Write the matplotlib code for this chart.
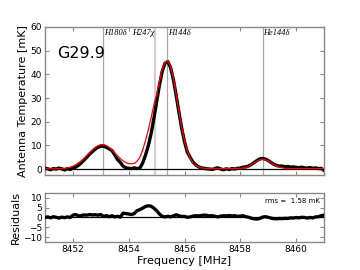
import matplotlib
matplotlib.use("Agg")
import matplotlib.pyplot as plt
import numpy as np

# Frequency grid (MHz), 0.1 MHz steps from 8451.0 to 8461.0
freq_start = 8451.0
freq_step = 0.1

data_mK = [
    0.3, 0.1, -0.3, 0.2, 0.0, 0.4, 0.1, -0.4, 0.2, -0.2,          # 8451.0-8451.9
    0.5, 0.8, 1.6, 2.6, 3.8, 5.0, 6.3, 7.4, 8.4, 9.2,               # 8452.0-8452.9
    9.6, 9.7, 9.2, 8.5, 7.8, 6.0, 4.0, 2.8, 1.2, 0.5,               # 8453.0-8453.9
    0.3, 0.2, 0.5, 0.2, 0.4, 2.5, 5.8, 9.7, 14.8, 21.2,             # 8454.0-8454.9
    28.3, 35.3, 41.2, 44.7, 45.4, 42.9, 37.9, 31.2, 24.0, 17.2,     # 8455.0-8455.9
    11.5, 7.2, 5.0, 3.0, 1.8, 1.0, 0.5, 0.3, 0.1, 0.0,              # 8456.0-8456.9
    -0.2, 0.3, 0.5, 0.0, -0.3, 0.1, -0.2, 0.2, 0.0, 0.3,            # 8457.0-8457.9
    0.4, 0.8, 0.9, 1.3, 1.9, 2.8, 3.6, 4.3, 4.5, 4.2,               # 8458.0-8458.9
    3.6, 2.8, 2.0, 1.5, 1.2, 1.3, 0.9, 1.1, 0.8, 0.9,               # 8459.0-8459.9
    0.7, 0.6, 0.8, 0.5, 0.4, 0.6, 0.3, 0.5, 0.2, 0.3,               # 8460.0-8460.9
    -0.6,                                                            # 8461.0
]

model_mK = [
    0.1, 0.1, 0.1, 0.1, 0.1, 0.2, 0.2, 0.3, 0.5, 0.8,
    1.2, 1.8, 2.6, 3.5, 4.6, 5.8, 7.0, 8.2, 9.2, 9.9,
    10.3, 10.3, 9.9, 9.1, 8.0, 6.8, 5.5, 4.4, 3.4, 2.7,
    2.3, 2.2, 2.4, 3.3, 5.0, 8.0, 12.0, 16.5, 21.5, 27.0,
    31.5, 37.0, 42.3, 45.0, 45.8, 43.3, 38.3, 31.5, 24.3, 17.5,
    11.8, 7.6, 4.6, 2.7, 1.5, 0.9, 0.5, 0.3, 0.2, 0.2,
    0.2, 0.2, 0.2, 0.2, 0.2, 0.2, 0.2, 0.2, 0.2, 0.3,
    0.3, 0.4, 0.7, 1.2, 1.9, 2.7, 3.4, 3.9, 4.1, 3.9,
    3.4, 2.7, 1.9, 1.3, 0.8, 0.5, 0.3, 0.2, 0.2, 0.2,
    0.2, 0.2, 0.2, 0.2, 0.2, 0.2, 0.2, 0.2, 0.2, 0.2,
    0.2,
]

resid_mK = [
    0.0, 0.3, -0.2, 0.4, 0.1, -0.3, 0.2, -0.1, 0.3, 0.0,
    1.2, 1.5, 0.8, 1.0, 1.3, 1.2, 1.5, 1.3, 1.4, 1.2,
    1.5, 0.5, 1.0, 0.4, 0.9, 0.3, 0.6, 0.2, 2.2, 2.0,
    1.8, 1.5, 2.0, 3.5, 4.0, 4.8, 5.6, 6.0, 5.8, 4.8,
    3.5, 1.8, 0.6, 0.3, 0.6, 0.3, 0.8, 1.4, 0.9, 0.5,
    0.6, 0.1, 0.3, 0.7, 0.9, 0.8, 1.0, 1.2, 1.1, 0.8,
    0.9, 0.6, 0.3, 0.7, 0.9, 0.8, 1.0, 0.8, 0.9, 0.6,
    0.7, 0.9, 0.4, 0.1, -0.4, -0.7, -0.8, -0.5, 0.2, 0.4,
    0.1, -0.3, -0.6, -0.7, -0.5, -0.6, -0.4, -0.5, -0.2, -0.3,
    0.0, -0.2, 0.1, 0.0, -0.3, 0.0, -0.2, 0.3, 0.4, 0.9,
    1.2,
]

line_names = ["H180\u03b4", "H247\u03c7", "H144\u03b4", "He144\u03b4"]
line_freqs = [8453.08, 8454.96, 8455.37, 8458.80]

source_name = "G29.9"
rms_text = "rms =  1.58 mK"

freq = freq_start + freq_step * np.arange(len(data_mK))

fig = plt.figure(figsize=(3.6, 2.7), dpi=100)
ax = fig.add_axes([0.125, 0.352, 0.775, 0.548])
axr = fig.add_axes([0.125, 0.104, 0.775, 0.181])

spine_col = "#888888"
for a in (ax, axr):
    for s in a.spines.values():
        s.set_color(spine_col)
        s.set_linewidth(1.0)
    a.tick_params(direction="in", top=True, right=True, color=spine_col,
                  labelsize=6.5, length=3, width=0.8, pad=2)
    a.set_xlim(8451, 8461)
    a.set_xticks([8452, 8454, 8456, 8458, 8460])

# vertical line markers
line_styles = [("#b0a4a4", 0.9), ("#d8cccc", 1.6), ("#b0a4a4", 0.9), ("#b0a4a4", 0.9)]
for name, f, (c, lw) in zip(line_names, line_freqs, line_styles):
    ax.axvline(f, color=c, lw=lw, zorder=1)
    ha = "right" if name == "H247\u03c7" else "left"
    dx = -0.03 if ha == "right" else 0.03
    ax.text(f + dx, 59.3, name, ha=ha, va="top", fontsize=6,
            family="Liberation Serif", style="italic")

ax.axhline(0, color="black", lw=0.9, zorder=2)
ax.plot(freq, data_mK, color="black", lw=2.4, solid_joinstyle="round",
        solid_capstyle="round", zorder=3)
ax.plot(freq, model_mK, color="red", lw=0.9, zorder=4)
ax.set_ylim(-2.5, 60)
ax.set_yticks([0, 10, 20, 30, 40, 50, 60])
ax.set_xticklabels([])
ax.set_ylabel("Antenna Temperature [mK]", fontsize=8, labelpad=2)
ax.text(0.045, 0.82, source_name, transform=ax.transAxes, fontsize=11.5,
        ha="left", va="center")

axr.axhline(0, color="black", lw=0.9, zorder=2)
axr.plot(freq, resid_mK, color="black", lw=2.4, solid_joinstyle="round",
         solid_capstyle="round", zorder=3)
axr.set_ylim(-12.5, 12.5)
axr.set_yticks([-10, -5, 0, 5, 10])
axr.set_yticklabels(["\u221210", "\u22125", "0", "5", "10"])
axr.set_ylabel("Residuals", fontsize=8, labelpad=2)
axr.set_xlabel("Frequency [MHz]", fontsize=8, labelpad=2)
axr.text(0.985, 0.9, rms_text, transform=axr.transAxes, fontsize=5,
         ha="right", va="top")

fig.savefig("out.png", dpi=100)
